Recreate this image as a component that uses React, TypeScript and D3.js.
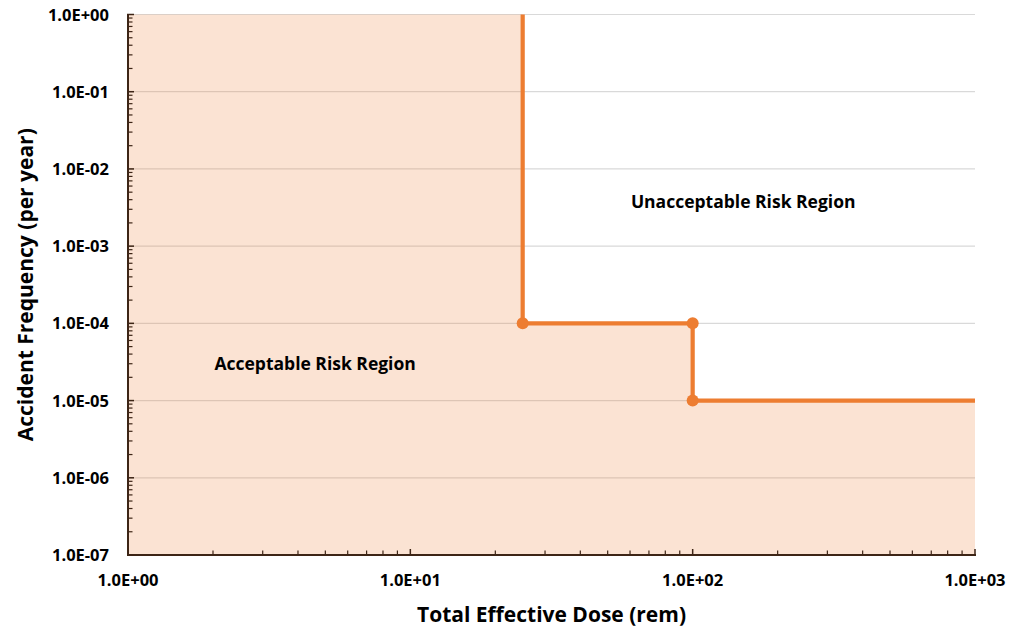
import React from "react";
import * as d3 from "d3";

const xDomain: [number, number] = [1, 1000];
const yDomain: [number, number] = [1e-7, 1];
const xTickValues = [1, 10, 100, 1000];
const yTickValues = [1, 1e-1, 1e-2, 1e-3, 1e-4, 1e-5, 1e-6, 1e-7];
const curveDose = [25, 25, 100, 100, 1000];
const curveFreq = [1, 1e-4, 1e-4, 1e-5, 1e-5];
const markerDose = [25, 100, 100];
const markerFreq = [1e-4, 1e-4, 1e-5];
const annotationText = ["Unacceptable Risk Region", "Acceptable Risk Region"];
const annotationDose = [151, 4.6];
const annotationFreq = [3.7e-3, 3.0e-5];
const xTitle = "Total Effective Dose (rem)";
const yTitle = "Accident Frequency (per year)";

const W = 1012, H = 631;
const M = { left: 128, right: 975, top: 14.5, bottom: 555 };
const ORANGE = "#ED7D31";
const AXIS = "#3d2516";
const FONT = "'Open Sans', sans-serif";

const fmt = (v: number) => {
  const e = Math.round(Math.log10(v));
  const s = e < 0 ? "-" : "+";
  return `1.0E${s}${String(Math.abs(e)).padStart(2, "0")}`;
};

export default function App() {
  const x = d3.scaleLog().domain(xDomain).range([M.left, M.right]);
  const y = d3.scaleLog().domain(yDomain).range([M.bottom, M.top]);

  const pts: [number, number][] = curveDose.map((d, i) => [d, curveFreq[i]]);
  const areaPts: [number, number][] = [
    [xDomain[0], yDomain[1]],
    ...pts,
    [xDomain[1], yDomain[0]],
    [xDomain[0], yDomain[0]],
  ];
  const poly = d3.line<[number, number]>().x((d) => x(d[0])).y((d) => y(d[1]))(areaPts) + "Z";
  const linePath = d3.line<[number, number]>().x((d) => x(d[0])).y((d) => y(d[1]))(pts) || "";

  const minorX: number[] = [];
  for (let dec = 1; dec < 1000; dec *= 10) for (let k = 2; k <= 9; k++) minorX.push(dec * k);
  const minorY: number[] = [];
  for (let e = -7; e < 0; e++) for (let k = 2; k <= 9; k++) minorY.push(Math.pow(10, e) * k);

  return (
    <svg width={W} height={H} style={{ position: "absolute", left: 0, top: 0, display: "block" }}>
      <rect width={W} height={H} fill="#fff" />
      {yTickValues.map((v) => (
        <line key={"g" + v} x1={M.left} x2={M.right} y1={y(v)} y2={y(v)} stroke="#d9d9d9" strokeWidth={1.2} />
      ))}
      <path d={poly} fill={ORANGE} fillOpacity={0.215} />
      {/* axes */}
      <line x1={M.left} x2={M.left} y1={M.top} y2={M.bottom + 1} stroke={AXIS} strokeWidth={2} />
      <line x1={M.left - 1} x2={M.right + 1} y1={M.bottom} y2={M.bottom} stroke={AXIS} strokeWidth={2} />
      {minorY.map((v) => (
        <line key={"my" + v} x1={M.left} x2={M.left + 4.5} y1={y(v)} y2={y(v)} stroke={AXIS} strokeWidth={1.2} />
      ))}
      {yTickValues.map((v) => (
        <line key={"My" + v} x1={M.left - 1} x2={M.left + 6} y1={y(v)} y2={y(v)} stroke={AXIS} strokeWidth={1.5} />
      ))}
      {minorX.map((v) => (
        <line key={"mx" + v} x1={x(v)} x2={x(v)} y1={M.bottom} y2={M.bottom - 4.5} stroke={AXIS} strokeWidth={1.2} />
      ))}
      {xTickValues.map((v) => (
        <line key={"Mx" + v} x1={x(v)} x2={x(v)} y1={M.bottom + 1} y2={M.bottom - 6} stroke={AXIS} strokeWidth={1.5} />
      ))}
      {/* curve */}
      <path d={linePath} fill="none" stroke={ORANGE} strokeWidth={4.2} strokeLinejoin="miter" />
      {markerDose.map((d, i) => (
        <circle key={"m" + i} cx={x(d)} cy={y(markerFreq[i])} r={6} fill={ORANGE} />
      ))}
      {/* tick labels */}
      {yTickValues.map((v) => (
        <text key={"ty" + v} x={109} y={y(v) + 6} textAnchor="end" fontFamily={FONT} fontWeight={700} fontSize={16.5} fill="#000">
          {fmt(v)}
        </text>
      ))}
      {xTickValues.map((v) => (
        <text key={"tx" + v} x={x(v)} y={M.bottom + 31} textAnchor="middle" fontFamily={FONT} fontWeight={700} fontSize={16.5} fill="#000">
          {fmt(v)}
        </text>
      ))}
      {/* annotations */}
      {annotationText.map((t, i) => (
        <text key={"a" + i} x={x(annotationDose[i])} y={y(annotationFreq[i]) + 6} textAnchor="middle" fontFamily={FONT} fontWeight={700} fontSize={17.5} fill="#000">
          {t}
        </text>
      ))}
      {/* axis titles */}
      <text x={(M.left + M.right) / 2} y={622} textAnchor="middle" fontFamily={FONT} fontWeight={700} fontSize={21} fill="#000">
        {xTitle}
      </text>
      <text transform={`translate(33,${(M.top + M.bottom) / 2}) rotate(-90)`} textAnchor="middle" fontFamily={FONT} fontWeight={700} fontSize={21} fill="#000">
        {yTitle}
      </text>
    </svg>
  );
}
